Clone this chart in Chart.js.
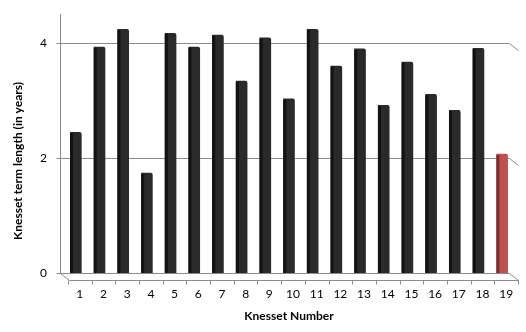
<!DOCTYPE html>
<html>
<head>
<meta charset="utf-8">
<script src="https://cdn.jsdelivr.net/npm/chart.js@4/dist/chart.umd.min.js"></script>
<style>
html,body{margin:0;padding:0;background:#fff;}
#wrap{width:526px;height:332px;}
</style>
</head>
<body>
<div id="wrap"><canvas id="c" width="526" height="332"></canvas></div>
<script>
const categories = ['1','2','3','4','5','6','7','8','9','10','11','12','13','14','15','16','17','18','19'];
const termLengths = [2.45, 3.93, 4.24, 1.74, 4.17, 3.93, 4.14, 3.34, 4.09, 3.03, 4.24, 3.6, 3.9, 2.92, 3.67, 3.11, 2.83, 3.91, 2.07];
const yTicks = [0, 2, 4];
const barColors = termLengths.map((v, i) => i === termLengths.length - 1 ? '#c0504d' : '#2a2a2a');
const sideColors = termLengths.map((v, i) => i === termLengths.length - 1 ? '#7b2f2d' : '#121212');

const DX = 9, DY = 7, SHIFT = 4;
const LINE = '#8c8c8c';

const walls = {
  id: 'walls',
  beforeDatasetsDraw(chart) {
    const {ctx, chartArea: a, scales: {x, y}} = chart;
    const bl = Math.round(a.left - SHIFT) + 0.5;
    const br = Math.round(a.right - 5) + 0.5;
    const y0 = Math.round(y.getPixelForValue(0)) + 0.5;
    ctx.save();
    ctx.strokeStyle = LINE;
    ctx.lineWidth = 1;
    ctx.beginPath();
    ctx.moveTo(bl, a.top); ctx.lineTo(bl, y0);
    yTicks.forEach(v => {
      const py = Math.round(y.getPixelForValue(v)) + 0.5;
      ctx.moveTo(bl - 4, py); ctx.lineTo(bl, py);
      if (v !== 0) {
        ctx.lineTo(br, py); ctx.lineTo(br + DX, py + DY);
      }
    });
    ctx.moveTo(bl, y0); ctx.lineTo(br, y0);
    ctx.moveTo(bl, y0); ctx.lineTo(bl + DX, y0 + DY); ctx.lineTo(br + DX, y0 + DY); ctx.lineTo(br, y0);
    const w = (a.right - a.left) / categories.length;
    for (let i = 0; i <= categories.length; i++) {
      const px = Math.round(a.left + i * w + SHIFT) + 0.5;
      ctx.moveTo(px, y0 + DY); ctx.lineTo(px, y0 + DY + 4);
    }
    ctx.stroke();
    ctx.restore();
  },
  afterDatasetsDraw(chart) {
    const {ctx} = chart;
    const meta = chart.getDatasetMeta(0);
    ctx.save();
    meta.data.forEach((bar, i) => {
      const left = bar.x - bar.width / 2;
      ctx.fillStyle = sideColors[i];
      ctx.fillRect(left, bar.y + 1, 3, bar.base - bar.y - 1);
    });
    ctx.restore();
  },
  afterDraw(chart) {
    const {ctx} = chart;
    ctx.save();
    ctx.translate(18, 161);
    ctx.rotate(-Math.PI / 2);
    ctx.font = 'bold 12px Lato';
    ctx.fillStyle = '#000';
    ctx.textAlign = 'center';
    ctx.textBaseline = 'middle';
    ctx.fillText('Knesset term length (in years)', 0, 0);
    ctx.restore();
  }
};

new Chart(document.getElementById('c'), {
  type: 'bar',
  data: {
    labels: categories,
    datasets: [{
      data: termLengths,
      backgroundColor: barColors,
      borderWidth: 0,
      borderRadius: {topLeft: 0, topRight: 2, bottomLeft: 0, bottomRight: 0},
      borderSkipped: false,
      categoryPercentage: 1,
      barPercentage: 0.49
    }]
  },
  options: {
    responsive: false,
    animation: false,
    devicePixelRatio: 1,
    layout: {padding: {top: 14, right: 12, bottom: 0, left: 0}},
    plugins: {legend: {display: false}, tooltip: {enabled: false}},
    scales: {
      x: {
        grid: {display: false, drawTicks: false},
        border: {display: false},
        ticks: {color: '#000', font: {family: 'Lato', size: 12}, padding: 14, labelOffset: SHIFT, maxRotation: 0, autoSkip: false},
        title: {display: true, text: 'Knesset Number', color: '#000', font: {family: 'Lato', size: 12, weight: 'bold'}, padding: {top: 0, bottom: 9}},
        afterFit(s) { s.height = 59; s.paddingLeft = 0; s.paddingRight = 0; }
      },
      y: {
        min: 0,
        max: 4.5,
        grid: {display: false, drawTicks: false},
        border: {display: false},
        ticks: {stepSize: 2, color: '#000', font: {family: 'Lato', size: 12}, padding: 17},
        afterBuildTicks(s) { s.ticks = yTicks.map(v => ({value: v})); },
        afterFit(s) { s.width = 64; s.paddingTop = 0; s.paddingBottom = 0; }
      }
    }
  },
  plugins: [walls]
});
</script>
</body>
</html>
